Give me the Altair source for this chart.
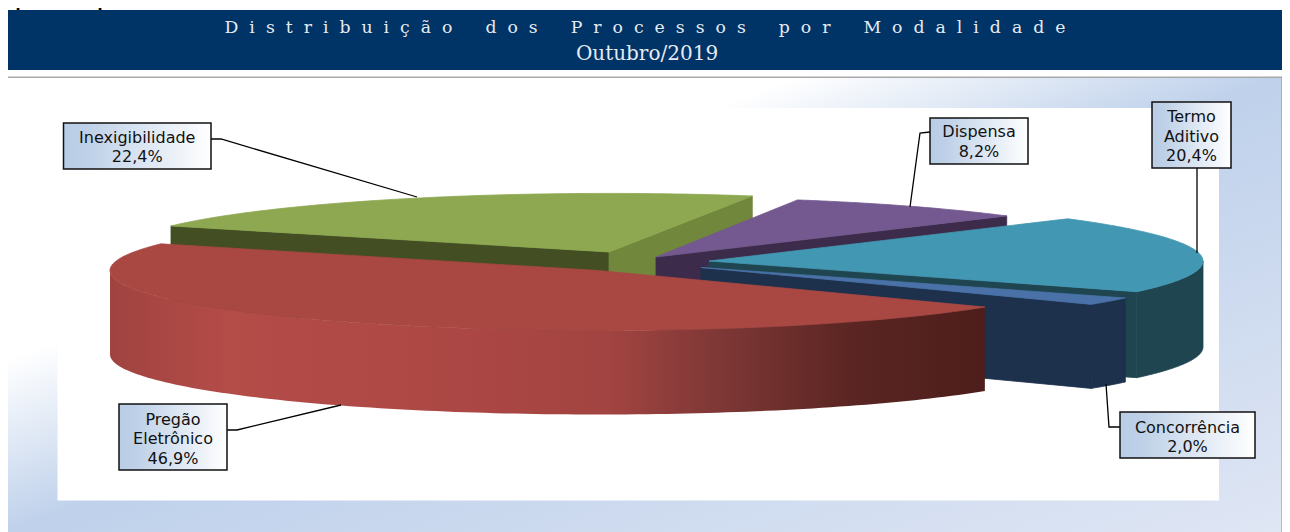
import numpy as np
import pandas as pd
import altair as alt

# ---- data
labels = ["Pregão Eletrônico", "Inexigibilidade", "Dispensa", "Termo Aditivo", "Concorrência"]
shares = [46.9, 22.4, 8.2, 20.4, 2.0]
share_text = ["46,9%", "22,4%", "8,2%", "20,4%", "2,0%"]
first_slice_start = 206.4      # pie rotation, degrees
depth = 84                     # pie thickness
# ellipse of each exploded slice
centre_x = [598, 609, 656, 709, 701]
centre_y = [270.5, 252, 257, 261, 267.5]
radius_x = [488, 489, 483, 494, 490]
radius_y = [60, 58.6, 59.7, 61.4, 61]

title_words = ["Distribuição", "dos", "Processos", "por", "Modalidade"]
NB = "\u00a0"
title_1 = (NB * 6).join((NB * 2).join(w) for w in title_words)
title_2 = "Outubro/2019"
cut_text = "tipo de processo analisado."

box_x = [119, 63.5, 930, 1152, 1120]
box_x2 = [227, 211, 1028, 1231, 1255]
box_y = [404, 123, 118, 102, 412]
box_y2 = [470, 169, 164, 168, 458]
label_lines = [["Pregão", "Eletrônico", "46,9%"], ["Inexigibilidade", "22,4%"], ["Dispensa", "8,2%"],
               ["Termo", "Aditivo", "20,4%"], ["Concorrência", "2,0%"]]
label_base = [[425, 444, 464], [143, 162], [137, 157], [122, 142, 161], [433, 452]]
leader_x = [[227, 237, 341], [211, 221, 417], [930, 920, 910], [1197, 1197], [1120, 1109, 1106]]
leader_y = [[430, 430, 405], [139, 139, 197], [132, 133, 207], [168, 253], [427, 427, 384]]

xs = alt.Scale(domain=[8, 1282], range=[0, 1274])
ys = alt.Scale(domain=[8, 532], range=[0, 524])
X = lambda f="x": alt.X(f"{f}:Q", scale=xs, axis=None)
Y = lambda f="y": alt.Y(f"{f}:Q", scale=ys, axis=None)


def poly(points, fill):
    pts = np.asarray(points, dtype=float)
    df = pd.DataFrame({"x": pts[:, 0], "y": pts[:, 1], "i": np.arange(len(pts))})
    stroke = fill if isinstance(fill, str) else "#a04340"
    kw = {"stroke": stroke, "strokeWidth": 0.8} if isinstance(fill, str) else {"strokeWidth": 0, "strokeOpacity": 0}
    return alt.Chart(df).mark_line(fill=fill, interpolate="linear-closed", **kw).encode(
        x=X(), y=Y(), order=alt.Order("i:Q"))


def arc(s, a, b, n=70, dy=0):
    t = np.radians(np.linspace(a, b, n))
    return np.c_[centre_x[s] + radius_x[s] * np.cos(t), centre_y[s] + radius_y[s] * np.sin(t) + dy]


def apex(s, dy=0):
    return np.array([[centre_x[s], centre_y[s] + dy]])


# slice angle limits: red runs anticlockwise from the start, others clockwise
sweep = [v * 3.6 for v in shares]
limits = {}
a = first_slice_start
limits[0] = (a - sweep[0], a)
for s in range(1, 5):
    limits[s] = (a, a + sweep[s])
    a += sweep[s]

layers = []

# background panel and frame
def rect(x, x2, y, y2, fill):
    return alt.Chart(pd.DataFrame({"x": [x], "x2": [x2], "y": [y], "y2": [y2]})).mark_rect(fill=fill).encode(
        x=X(), x2="x2:Q", y=Y(), y2="y2:Q")

panel = alt.Gradient(gradient="linear", x1=0, y1=0, x2=1, y2=1, stops=[
    alt.GradientStop(offset=0, color="#ffffff"), alt.GradientStop(offset=0.31, color="#ffffff"),
    alt.GradientStop(offset=0.5, color="#bfd1eb"), alt.GradientStop(offset=1, color="#dfe6f4")])
layers.append(rect(7, 1282, 77, 532, panel))
layers.append(rect(57.5, 1219, 108, 500.5, "#ffffff"))
layers.append(rect(7, 1283, 10, 70, "#003366"))
layers.append(rect(7, 1283, 76.5, 78, "#a9a9a9"))
layers.append(rect(1281.5, 1283, 77, 532, "#8f8f8f"))

# back to front: Inexigibilidade
s = 1
lo, hi = limits[s]
a0 = arc(s, lo, lo, 1)
a1 = arc(s, hi, hi, 1)
layers.append(poly(np.r_[a0, apex(s), apex(s, depth), a0 + [0, depth]], "#434e22"))
layers.append(poly(np.r_[apex(s), a1, a1 + [0, depth], apex(s, depth)], "#71873c"))
layers.append(poly(np.r_[apex(s), arc(s, lo, hi)], "#8da850"))

# Dispensa
s = 2
lo, hi = limits[s]
a1 = arc(s, hi, hi, 1)
layers.append(poly(np.r_[apex(s), a1, a1 + [0, depth], apex(s, depth)], "#3c2b4a"))
layers.append(poly(np.r_[apex(s), arc(s, lo, hi)], "#73598f"))

# Termo Aditivo
s = 3
lo, hi = limits[s]
a1 = arc(s, hi, hi, 1)
wall = arc(s, 360, hi)
layers.append(poly(np.r_[apex(s), a1, a1 + [0, depth + 2], apex(s, depth + 2)], "#1f4650"))
layers.append(poly(np.r_[wall, wall[::-1] + [0, depth + 2]], "#1f4650"))
layers.append(poly(np.r_[apex(s), arc(s, lo, hi)], "#4298b3"))

# Concorrência
s = 4
lo, hi = limits[s]
a1 = arc(s, hi, hi, 1)
wall = arc(s, lo, hi, 12)
layers.append(poly(np.r_[apex(s), a1, a1 + [0, depth], apex(s, depth)], "#1d314c"))
layers.append(poly(np.r_[wall, wall[::-1] + [0, depth]], "#1d314c"))
layers.append(poly(np.r_[apex(s), arc(s, lo, hi)], "#4a72a8"))

# Pregão Eletrônico
s = 0
lo, hi = limits[s]
red_wall = alt.Gradient(gradient="linear", x1=0, y1=0, x2=1, y2=0, stops=[
    alt.GradientStop(offset=o, color=c) for o, c in [
        (0, "#a04340"), (0.137, "#b44c48"), (0.33, "#ae4945"), (0.45, "#a94643"), (0.57, "#a24441"),
        (0.70, "#7d3735"), (0.85, "#5a2522"), (1, "#4d1e1b")]])
wall = arc(s, lo, 180, 120)
layers.append(poly(np.r_[wall, wall[::-1] + [0, depth]], red_wall))
layers.append(poly(np.r_[apex(s), arc(s, lo, hi, 120)], "#a94843"))

# leaders
for lx, ly in zip(leader_x, leader_y):
    df = pd.DataFrame({"x": lx, "y": ly, "i": range(len(lx))})
    layers.append(alt.Chart(df).mark_line(color="#000000", strokeWidth=1.3).encode(
        x=X(), y=Y(), order=alt.Order("i:Q")))

# label boxes
box_fill = alt.Gradient(gradient="linear", x1=0, y1=0, x2=1, y2=0, stops=[
    alt.GradientStop(offset=0, color="#b8cde5"), alt.GradientStop(offset=0.15, color="#bdd0e7"),
    alt.GradientStop(offset=1, color="#ffffff")])
boxes = pd.DataFrame({"x": box_x, "x2": box_x2, "y": box_y, "y2": box_y2, "name": labels, "share": share_text})
layers.append(alt.Chart(boxes).mark_rect(fill=box_fill, stroke="#111111", strokeWidth=1.5).encode(
    x=X(), x2="x2:Q", y=Y(), y2="y2:Q"))

rows = []
for b, (ls, bs) in enumerate(zip(label_lines, label_base)):
    for t, yb in zip(ls, bs):
        rows.append({"x": (box_x[b] + box_x2[b]) / 2, "y": yb, "t": t})
layers.append(alt.Chart(pd.DataFrame(rows)).mark_text(
    font="DejaVu Sans", fontSize=16, color="#111111", align="center", baseline="alphabetic").encode(
    x=X(), y=Y(), text="t:N"))

# header text
layers.append(alt.Chart(pd.DataFrame({"x": [645], "y": [33], "t": [title_1]})).mark_text(
    font="DejaVu Serif", fontSize=17.3, color="#e6ebf1", align="center", baseline="alphabetic").encode(
    x=X(), y=Y(), text="t:N"))
layers.append(alt.Chart(pd.DataFrame({"x": [647], "y": [60], "t": [title_2]})).mark_text(
    font="DejaVu Serif", fontSize=20, color="#e6ebf1", align="center", baseline="alphabetic").encode(
    x=X(), y=Y(), text="t:N"))
layers.append(alt.Chart(pd.DataFrame({"x": [0], "y": [4], "t": [cut_text]})).mark_text(
    font="Liberation Sans", fontSize=29.5, color="#000000", align="left", baseline="alphabetic").encode(
    x=X(), y=Y(), text="t:N"))

chart = alt.layer(*layers).properties(
    width=1274, height=524, padding=0, autosize=alt.AutoSizeParams(type="none"),
    background="#ffffff").configure_view(stroke=None)
chart.save("out.html", embed_options={"renderer": "svg", "actions": False})
